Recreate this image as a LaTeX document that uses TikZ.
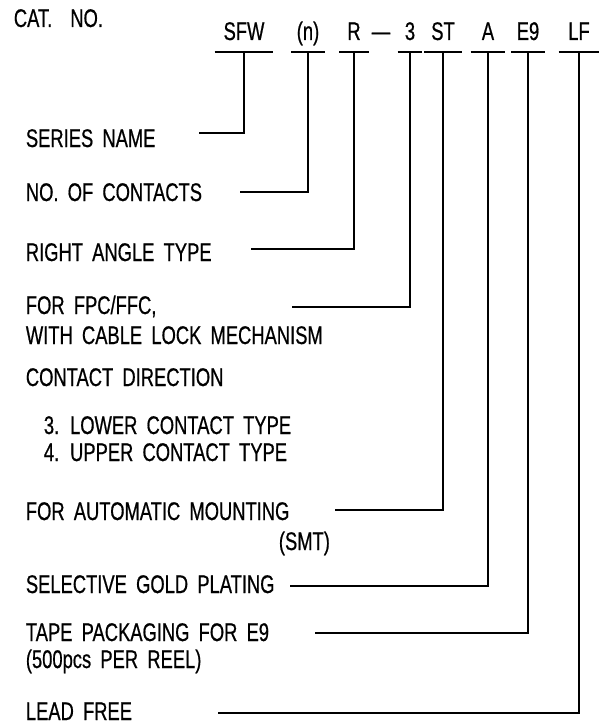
\documentclass[tikz,border=0pt]{standalone}
\usepackage{fontspec}
\setmainfont[FakeStretch=0.72,FakeBold=0.6,WordSpace=1.8]{Liberation Sans}
\begin{document}
\begin{tikzpicture}[x=1pt, y=-1pt, line width=1.8pt]
\tikzstyle{texte} = [font=\fontsize{25.5}{30}\selectfont]
\tikzstyle{libelle} = [texte, anchor=base west, inner sep=0pt]
\tikzstyle{code} = [texte, anchor=base, inner xsep=0pt, inner ysep=11pt, text depth=0pt]
\useasboundingbox (0,0) rectangle (608,725);
% numero de catalogue
\node[libelle] (cat) at (13,27) {CAT.\hspace{18pt}NO.};
\node[code, minimum width=57] (SFW) at (244,40) {SFW};
\node[code, minimum width=32] (N) at (308,40) {(n)};
\node[code, minimum width=28] (R) at (354,40) {R};
\node[texte, anchor=base] (tiret) at (381,40) {\textemdash};
\node[code, minimum width=23] (D3) at (410,40) {3};
\node[code, minimum width=36] (ST) at (443,40) {ST};
\node[code, minimum width=33] (A) at (488,40) {A};
\node[code, minimum width=32] (E9) at (528,40) {E9};
\node[code, minimum width=39] (LF) at (579,40) {LF};
% libelles
\node[libelle] (serie) at (25,147) {SERIES NAME};
\node[libelle] (contacts) at (25,201) {NO. OF CONTACTS};
\node[libelle] (angle) at (25,261) {RIGHT ANGLE TYPE};
\node[libelle] (fpc) at (25,314) {FOR FPC/FFC,};
\node[libelle] (cable) at (25,344) {WITH CABLE LOCK MECHANISM};
\node[libelle] (direction) at (25,386) {CONTACT DIRECTION};
\node[libelle] (bas) at (43,434) {3. LOWER CONTACT TYPE};
\node[libelle] (haut) at (43,461) {4. UPPER CONTACT TYPE};
\node[libelle] (montage) at (25,520) {FOR AUTOMATIC MOUNTING};
\node[libelle] (smt) at (278,550) {(SMT)};
\node[libelle] (dorure) at (25,593) {SELECTIVE GOLD PLATING};
\node[libelle] (bande) at (25,641) {TAPE PACKAGING FOR E9};
\node[libelle] (bobine) at (25,668) {(500pcs PER REEL)};
\node[libelle] (plomb) at (25,720) {LEAD FREE};
% departs des traits
\coordinate (s1) at (199,133);
\coordinate (s2) at (240,192);
\coordinate (s3) at (251,249);
\coordinate (s4) at (292,307);
\coordinate (s5) at (335,510);
\coordinate (s6) at (290,586);
\coordinate (s7) at (315,633);
\coordinate (s8) at (218,713);
\draw (SFW.south west) -- (SFW.south east) (SFW.south) |- (s1);
\draw (N.south west) -- (N.south east) (N.south) |- (s2);
\draw (R.south west) -- (R.south east) (R.south) |- (s3);
\draw (D3.south west) -- (D3.south east) (D3.south) |- (s4);
\draw (ST.south west) -- (ST.south east) (ST.south) |- (s5);
\draw (A.south west) -- (A.south east) (A.south) |- (s6);
\draw (E9.south west) -- (E9.south east) (E9.south) |- (s7);
\draw (LF.south west) -- (LF.south east) (LF.south) |- (s8);
\end{tikzpicture}
\end{document}
